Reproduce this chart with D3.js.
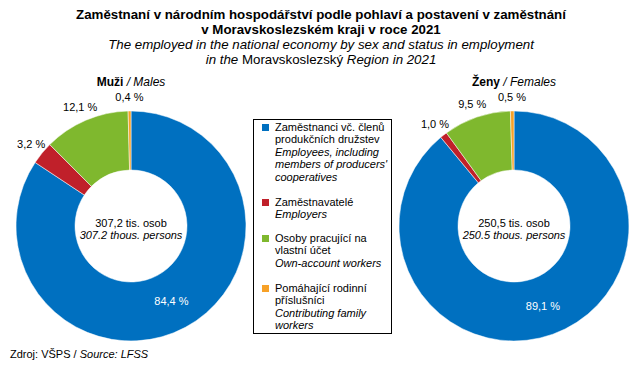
<!DOCTYPE html>
<html>
<head>
    <meta charset="utf-8">
    <script src="https://d3js.org/d3.v7.min.js"></script>
    <style>
        body { margin: 0; background: #fff; }
        text { font-family: "Liberation Sans", Arial, sans-serif; fill: #000; }
    </style>
</head>
<body>
    <div id="chart"></div>

    <script>
        // Data
        const categories = ["employees", "employers", "ownAccount", "family"];
        const legendCz = [
            ["Zaměstnanci vč. členů", "produkčních družstev"],
            ["Zaměstnavatelé"],
            ["Osoby pracující na", "vlastní účet"],
            ["Pomáhající  rodinní", "příslušníci"]
        ];
        const legendEn = [
            ["Employees, including", "members of producers'", "cooperatives"],
            ["Employers"],
            ["Own-account workers"],
            ["Contributing family", "workers"]
        ];
        const males = [84.4, 3.2, 12.1, 0.4];
        const females = [89.1, 1.0, 9.5, 0.5];
        const totalsCz = ["307,2 tis. osob", "250,5 tis. osob"];
        const totalsEn = ["307.2 thous. persons", "250.5 thous. persons"];
        const groupCz = ["Muži", "Ženy"];
        const groupEn = ["Males", "Females"];
        const colors = ["#0070c0", "#c0202a", "#7fb82e", "#f7a128"];

        const width = 643, height = 366;
        const svg = d3.select("#chart").append("svg")
            .attr("width", width)
            .attr("height", height);

        const color = d3.scaleOrdinal().domain(categories).range(colors);

        // Titles
        const title = svg.append("g").attr("text-anchor", "middle");
        title.append("text").attr("x", 321).attr("y", 19)
            .attr("font-size", 13.3).attr("font-weight", "bold")
            .text("Zaměstnaní v národním hospodářství  podle pohlaví a postavení v zaměstnání");
        title.append("text").attr("x", 321).attr("y", 33.5)
            .attr("font-size", 13.3).attr("font-weight", "bold")
            .text("v Moravskoslezském  kraji v roce 2021");
        title.append("text").attr("x", 321).attr("y", 48.5)
            .attr("font-size", 13.3).attr("font-style", "italic")
            .text("The employed in the national economy by sex and status in employment");
        const t4 = title.append("text").attr("x", 321).attr("y", 63.5).attr("font-size", 13.3);
        t4.append("tspan").attr("font-style", "italic").text("in the ");
        t4.append("tspan").text("Moravskoslezský ");
        t4.append("tspan").attr("font-style", "italic").text("Region in 2021");

        // Donuts
        const outerR = 115, innerR = 56, labelR = 129;
        const centers = [[131, 226], [514, 226]];
        const pie = d3.pie().sort(null).value(d => d);
        const arc = d3.arc().innerRadius(innerR).outerRadius(outerR);
        const fmt = v => d3.format(".1f")(v).replace(".", ",") + " %";

        [males, females].forEach((vals, gi) => {
            const g = svg.append("g")
                .attr("transform", `translate(${centers[gi][0]},${centers[gi][1]})`);
            const arcs = pie(vals);

            g.selectAll("path")
                .data(arcs)
                .join("path")
                .attr("d", arc)
                .attr("fill", (d, i) => color(categories[i]))
                .attr("stroke", "#fff")
                .attr("stroke-width", 0.5);

            // percentage labels
            g.selectAll("text.pct")
                .data(arcs)
                .join("text")
                .attr("class", "pct")
                .attr("font-size", 11)
                .attr("text-anchor", "middle")
                .attr("dy", "0.35em")
                .style("fill", (d, i) => i === 0 ? "#fff" : "#000")
                .attr("transform", (d, i) => {
                    if (i === 0) return `translate(${arc.centroid(d)})`;
                    const a = (d.startAngle + d.endAngle) / 2;
                    return `translate(${labelR * Math.sin(a)},${-labelR * Math.cos(a)})`;
                })
                .text(d => fmt(d.data));

            // centre totals
            g.append("text").attr("text-anchor", "middle").attr("y", 1)
                .attr("font-size", 11).text(totalsCz[gi]);
            g.append("text").attr("text-anchor", "middle").attr("y", 13)
                .attr("font-size", 11).attr("font-style", "italic").text(totalsEn[gi]);

            // group heading
            const h = g.append("text").attr("text-anchor", "middle").attr("y", -140)
                .attr("font-size", 12);
            h.append("tspan").attr("font-weight", "bold").text(groupCz[gi]);
            h.append("tspan").attr("font-style", "italic").text(" / ");
            h.append("tspan").attr("font-style", "italic").text(groupEn[gi]);
        });

        // Legend
        const legend = svg.append("g");
        legend.append("rect")
            .attr("x", 253.5).attr("y", 119.5)
            .attr("width", 138).attr("height", 214)
            .attr("fill", "#fff").attr("stroke", "#000");

        const lineH = 12.4;
        const groupTops = [131, 206, 242, 292];
        categories.forEach((c, i) => {
            const y0 = groupTops[i];
            legend.append("rect")
                .attr("x", 262).attr("y", y0 - 7)
                .attr("width", 7).attr("height", 7)
                .attr("fill", color(c));
            const lines = legendCz[i].map(t => ({ t, it: false }))
                .concat(legendEn[i].map(t => ({ t, it: true })));
            legend.selectAll(null)
                .data(lines)
                .join("text")
                .attr("x", 275)
                .attr("y", (d, j) => y0 + j * lineH)
                .attr("font-size", 11)
                .attr("font-style", d => d.it ? "italic" : "normal")
                .text(d => d.t);
        });

        // Source
        const src = svg.append("text").attr("x", 10).attr("y", 358).attr("font-size", 11);
        src.append("tspan").text("Zdroj: VŠPS / ");
        src.append("tspan").attr("font-style", "italic").text("Source: LFSS");
    </script>
</body>
</html>
